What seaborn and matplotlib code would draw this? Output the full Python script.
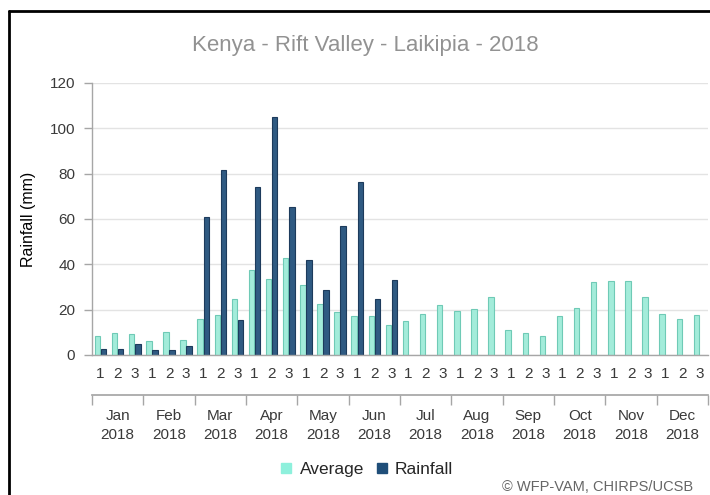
import matplotlib.pyplot as plt
import pandas as pd
import seaborn as sns
from matplotlib.lines import Line2D

# Dekadal rainfall, Laikipia 2018
months = ['Jan', 'Feb', 'Mar', 'Apr', 'May', 'Jun',
          'Jul', 'Aug', 'Sep', 'Oct', 'Nov', 'Dec']
dekads = ['1', '2', '3']
year = '2018'

average = [8.5, 9.7, 9.3, 6.0, 10.1, 6.6,
           16.0, 17.6, 24.6, 37.5, 33.7, 42.9,
           31.0, 22.6, 18.8, 17.0, 17.4, 13.2,
           14.8, 18.0, 22.0, 19.6, 20.1, 25.4,
           10.9, 9.7, 8.4, 17.4, 20.6, 32.0,
           32.5, 32.6, 25.5, 18.3, 15.8, 17.5]
rainfall = [2.6, 2.6, 5.0, 2.4, 2.4, 3.8,
            61.0, 81.8, 15.3, 74.3, 105.1, 65.3,
            42.0, 28.8, 56.8, 76.5, 24.7, 33.0]

sns.set_theme(style='white')
plt.rcParams['font.family'] = ['Liberation Sans', 'DejaVu Sans']

periods = [m + ' ' + d for m in months for d in dekads]
df = pd.DataFrame({
    'period': periods + periods[:len(rainfall)],
    'series': ['Average'] * len(average) + ['Rainfall'] * len(rainfall),
    'value': average + rainfall,
})

grey = '#a6a6a6'
text_col = '#3a3a3a'

fig = plt.figure(figsize=(7.1, 4.95), dpi=100)
ax = fig.add_axes([92 / 710, 140 / 495, 616 / 710, 272 / 495])

sns.barplot(data=df, x='period', y='value', hue='series',
            order=periods, hue_order=['Average', 'Rainfall'],
            palette={'Average': '#a3ecda', 'Rainfall': '#2f5a82'},
            saturation=1, width=0.72, gap=0.12, legend=False, ax=ax)
for cont, ec in zip(ax.containers, ['#6fcab6', '#1d3b5c']):
    for bar in cont:
        bar.set_edgecolor(ec)
        bar.set_linewidth(0.8)

ax.set_xlim(-0.5, len(periods) - 0.5)
ax.set_ylim(0, 120)
ax.set_yticks(range(0, 121, 20))
ax.yaxis.grid(True, color='#e3e3e3', linewidth=1)
ax.set_axisbelow(True)
for s in ['top', 'right']:
    ax.spines[s].set_visible(False)
for s in ['left', 'bottom']:
    ax.spines[s].set_color(grey)
    ax.spines[s].set_linewidth(1)

# dekad ticks
bounds = [i - 0.5 for i in range(len(periods) + 1)]
ax.set_xticks(bounds, [''] * len(bounds))
ax.set_xticks(range(len(periods)), dekads * len(months), minor=True)
ax.tick_params(axis='x', which='major', length=7, color=grey, width=1)
ax.tick_params(axis='x', which='minor', length=0, pad=9,
               labelsize=11, labelcolor=text_col)
ax.tick_params(axis='y', length=6, color=grey, width=1, pad=6,
               labelsize=11, labelcolor=text_col, left=True)
ax.set_xlabel('')
ax.set_ylabel('Rainfall (mm)', fontsize=11.5, color='black')
ax.yaxis.set_label_coords(-56 / 616, 0.5)

# month axis
sec = ax.secondary_xaxis(-40 / 272)
mbounds = [i * 3 - 0.5 for i in range(len(months) + 1)]
sec.set_xticks(mbounds, [''] * len(mbounds))
sec.set_xticks([i * 3 + 1 for i in range(len(months))],
               [m + '\n' + year for m in months], minor=True)
sec.spines['bottom'].set_color(grey)
sec.tick_params(axis='x', which='major', length=7, color=grey, width=1)
sec.tick_params(axis='x', which='minor', length=0, pad=10,
                labelsize=11, labelcolor=text_col)
for lbl in sec.get_xticklabels(minor=True):
    lbl.set_linespacing(1.45)

fig.text(365 / 710, 1 - 45 / 495, 'Kenya - Rift Valley - Laikipia - 2018',
         ha='center', va='center', fontsize=16, color='#929292')

handles = [Line2D([], [], marker='s', linestyle='', markersize=7.5,
                  color='#8ef0dc', label='Average'),
           Line2D([], [], marker='s', linestyle='', markersize=7.5,
                  color='#1f4e79', label='Rainfall')]
fig.legend(handles=handles, loc='center', bbox_to_anchor=(366 / 710, 1 - 469 / 495),
           ncol=2, frameon=False, fontsize=12.5, handletextpad=0.3,
           columnspacing=0.6, handlelength=0.9)

fig.text(502 / 710, 1 - 491 / 495, '\u00a9 WFP-VAM, CHIRPS/UCSB',
         ha='left', va='baseline', fontsize=10.5, color='#666666')

# container frame
fig.add_artist(Line2D([9 / 710, 9 / 710], [0, 1 - 11 / 495],
                      color='black', linewidth=2, transform=fig.transFigure))
fig.add_artist(Line2D([9 / 710, 1], [1 - 11 / 495, 1 - 11 / 495],
                      color='black', linewidth=2, transform=fig.transFigure))

fig.savefig('out.png', dpi=100)
